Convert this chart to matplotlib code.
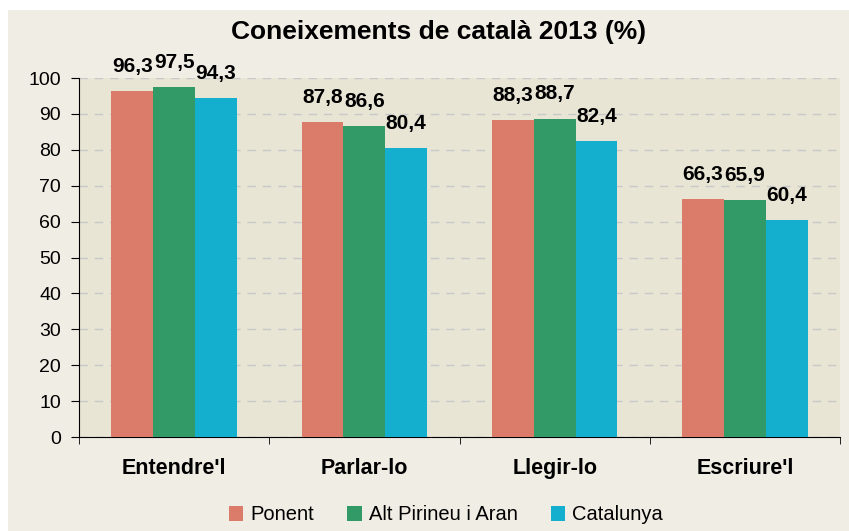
import numpy as np
import matplotlib.pyplot as plt
from matplotlib.patches import Rectangle


categories = ["Entendre'l", "Parlar-lo", "Llegir-lo", "Escriure'l"]
ponent = [96.3, 87.8, 88.3, 66.3]
alt_pirineu = [97.5, 86.6, 88.7, 65.9]
catalunya = [94.3, 80.4, 82.4, 60.4]
series_names = ["Ponent", "Alt Pirineu i Aran", "Catalunya"]
colors = ["#DB7B69", "#329A66", "#14AFCF"]

plt.rcParams['font.family'] = ['Liberation Sans', 'DejaVu Sans']

fig = plt.figure(figsize=(8.49, 5.31), dpi=100)
fig.patch.set_facecolor('white')
# cream panel behind the chart
fig.patches.append(Rectangle((8 / 849, 0), 1 - 8 / 849, 1 - 10 / 531,
                             transform=fig.transFigure, facecolor='#F0EDE5',
                             edgecolor='none', zorder=-10))

ax = fig.add_axes([79 / 849, 1 - 437 / 531, (840 - 79) / 849, (437 - 78) / 531])
ax.set_facecolor('#E8E5D5')

x = np.arange(len(categories))
w = 0.22
for i, (vals, name, c) in enumerate(zip([ponent, alt_pirineu, catalunya], series_names, colors)):
    pos = x + (i - 1) * w
    ax.bar(pos, vals, width=w, color=c, label=name, zorder=3)
    for p, v in zip(pos, vals):
        ax.annotate(f"{v:.1f}".replace('.', ','), (p, v), xytext=(0, 11),
                    textcoords='offset points', ha='center', va='bottom',
                    fontsize=15, fontweight='bold', zorder=4)

ax.set_xlim(-0.5, len(categories) - 0.5)
ax.set_ylim(0, 100)
ax.set_yticks(np.arange(0, 101, 10))
ax.yaxis.grid(True, color='#C8C8C8', linestyle=(0, (6, 5)), linewidth=1, zorder=0)
ax.set_axisbelow(True)

ax.set_xticks(x)
ax.set_xticklabels(categories, fontsize=15.5, fontweight='bold')
ax.set_xticks(np.arange(-0.5, len(categories)), minor=True)
ax.tick_params(axis='x', which='major', length=0, pad=15)
ax.tick_params(axis='x', which='minor', length=5, direction='out', color='black')
ax.tick_params(axis='y', length=6, direction='out', labelsize=14, pad=7)

for s in ['top', 'right']:
    ax.spines[s].set_visible(False)
ax.spines['left'].set_color('black')
ax.spines['bottom'].set_color('black')

fig.text(439 / 849, 1 - 32 / 531, "Coneixements de català 2013 (%)", ha='center', va='center',
         fontsize=19, fontweight='bold')

fig.legend(loc='center', bbox_to_anchor=(446 / 849, 1 - 515 / 531), ncol=3, frameon=False,
           fontsize=14.5, handlelength=0.7, handleheight=0.7, handletextpad=0.35,
           columnspacing=1.65)

fig.savefig('out.png', dpi=100, facecolor=fig.get_facecolor())
